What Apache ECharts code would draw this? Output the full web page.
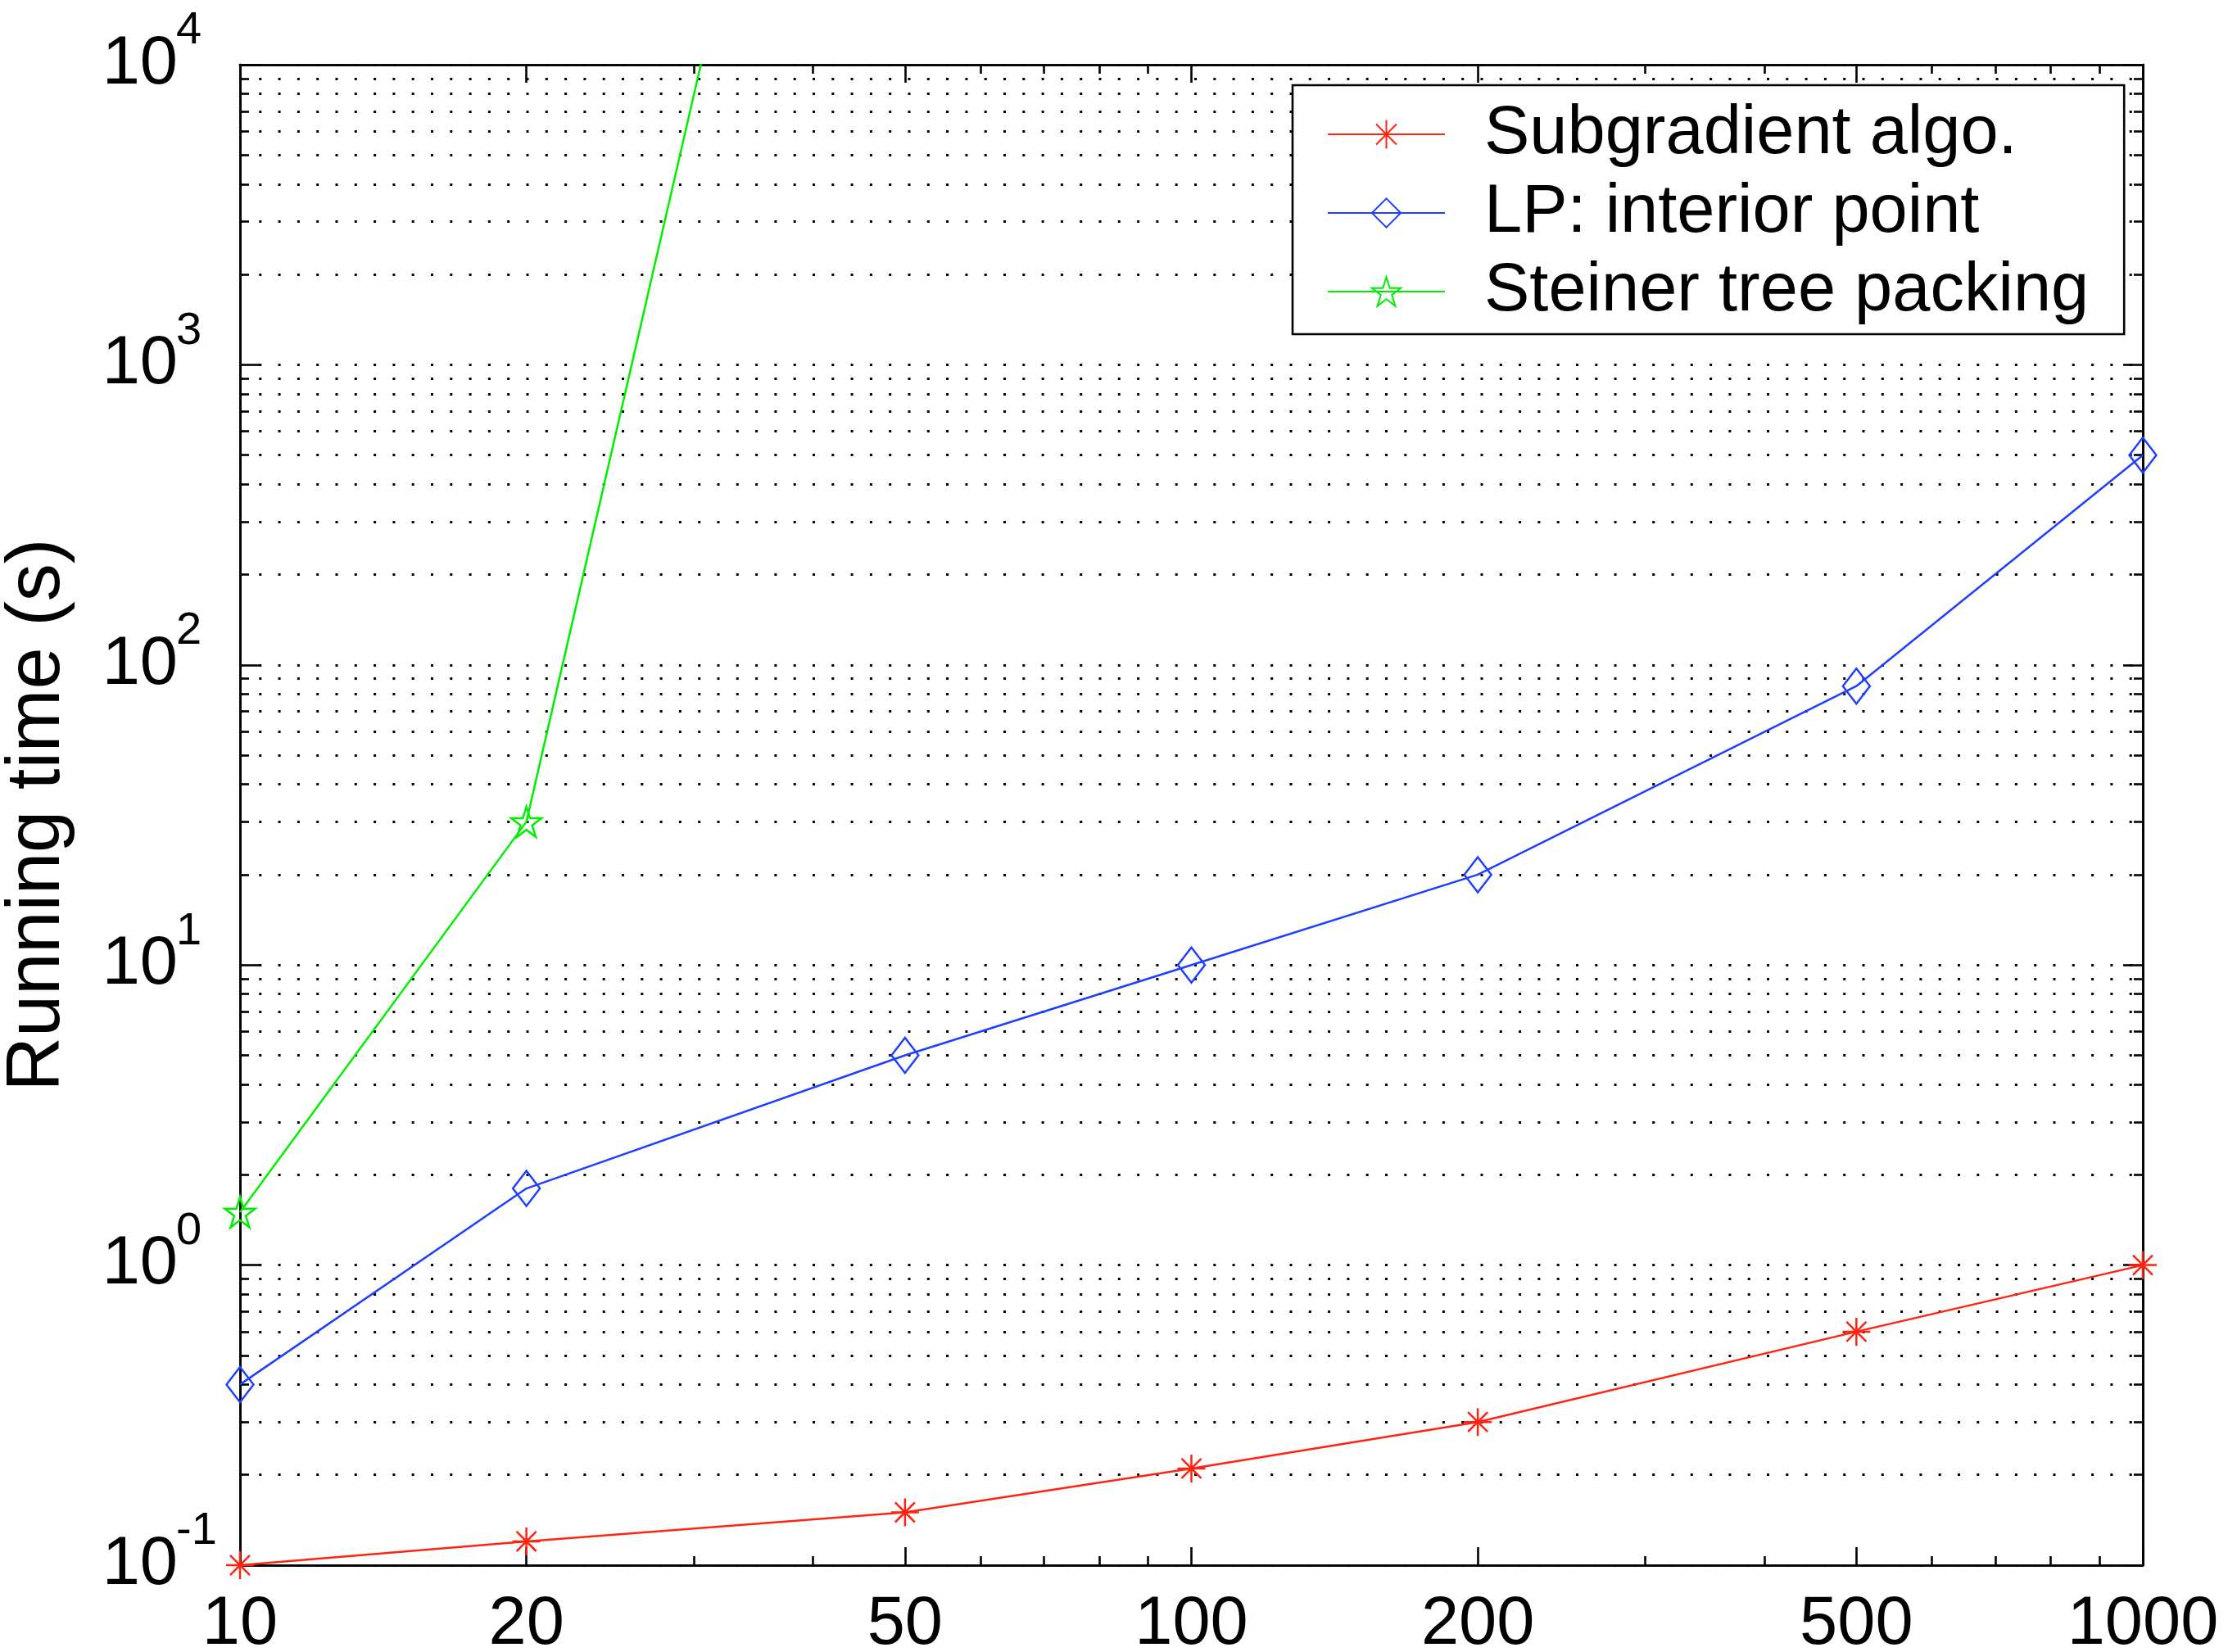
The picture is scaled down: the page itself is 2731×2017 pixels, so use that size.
<!DOCTYPE html>
<html>
<head>
<meta charset="utf-8">
<script src="https://cdn.jsdelivr.net/npm/echarts@6/dist/echarts.min.js"></script>
<style>html,body{margin:0;padding:0;background:#fff}#c{width:2731px;height:2017px}</style>
</head>
<body>
<div id="c"></div>
<script>
// ---- data ----
const problemSizes = [10, 20, 50, 100, 200, 500, 1000];
const subgradientTimes = [0.1, 0.12, 0.15, 0.21, 0.3, 0.6, 1.0];
const lpTimes = [0.4, 1.8, 5, 10, 20, 85, 500];
const steinerSizes = [10, 20, 50];
const steinerTimes = [1.5, 30, 9e6];
const xTickLabels = [10, 20, 50, 100, 200, 500, 1000];
const yDecades = [-1, 0, 1, 2, 3, 4];
const seriesNames = ['Subgradient algo.', 'LP: interior point', 'Steiner tree packing'];
const yAxisTitle = 'Running time (s)';

// ---- style ----
const FONT = '"Liberation Sans", Arial, Helvetica, sans-serif';
const RED = '#ff2412', BLUE = '#1f3fff', GREEN = '#00ee00';
const LOG = v => +Math.log10(v).toFixed(12);

const xMinor = [];
for (const d of [10, 100]) for (let m = 2; m <= 9; m++) { const v = m * d; if (!xTickLabels.includes(v)) xMinor.push(v); }
const yMinor = [];
for (const e of yDecades.slice(0, -1)) for (let m = 2; m <= 9; m++) yMinor.push(m * Math.pow(10, e));

const dotted = {color: '#000', width: 3, type: [3, 20.3]};
const axLine = {show: true, onZero: false, lineStyle: {color: '#000', width: 2.6}};

function decoX(position, vals, len, withLabels) {
  return {
    type: 'value', position: position, min: LOG(10), max: LOG(1000),
    axisLine: axLine,
    axisTick: {show: true, inside: true, length: len, customValues: vals.map(LOG), lineStyle: {color: '#000', width: 2.6}},
    axisLabel: withLabels ? {
      show: true, customValues: vals.map(LOG),
      formatter: v => String(Math.round(Math.pow(10, v))),
      fontSize: 83, lineHeight: 83, fontFamily: FONT, color: '#000', margin: 32
    } : {show: false},
    splitLine: {show: false}
  };
}
function decoY(position, vals, len, withLabels, grid) {
  return {
    type: 'value', position: position, min: -1, max: 4, interval: 1,
    axisLine: axLine,
    axisTick: {show: true, inside: true, length: len, customValues: vals, lineStyle: {color: '#000', width: 2.6}},
    axisLabel: withLabels ? {
      show: true, customValues: vals, formatter: () => '10',
      fontSize: 83, lineHeight: 83, fontFamily: FONT, color: '#000', margin: 76
    } : {show: false},
    splitLine: grid ? {show: true, lineStyle: dotted} : {show: false}
  };
}

const asterisk = 'path://M0,-1L0,1M-1,0L1,0M-0.7071,-0.7071L0.7071,0.7071M-0.7071,0.7071L0.7071,-0.7071';
function starPath() {
  const pts = [];
  for (let k = 0; k < 10; k++) {
    const r = k % 2 === 0 ? 1 : 0.382;
    const a = -Math.PI / 2 + k * Math.PI / 5;
    pts.push((r * Math.cos(a)).toFixed(4) + ',' + (r * Math.sin(a)).toFixed(4));
  }
  return 'path://M' + pts.join('L') + 'Z';
}

const chart = echarts.init(document.getElementById('c'), null, {renderer: 'canvas'});
chart.setOption({
  animation: false,
  backgroundColor: '#fff',
  grid: {left: 293, right: 115, top: 79, bottom: 106, containLabel: false, outerBoundsMode: 'none'},
  xAxis: [
    {type: 'log', logBase: 10, min: 10, max: 1000, show: false},
    decoX('bottom', xTickLabels, 22, true),
    decoX('bottom', xMinor, 11, false),
    decoX('top', xTickLabels, 22, false),
    decoX('top', xMinor, 11, false)
  ],
  yAxis: [
    {
      type: 'log', logBase: 10, min: 0.1, max: 10000, position: 'left',
      axisLine: {show: false}, axisTick: {show: false}, splitLine: {show: false},
      axisLabel: {
        formatter: v => String(Math.round(Math.log10(v))),
        fontSize: 56, lineHeight: 56, fontFamily: FONT, color: '#000',
        align: 'left', verticalAlign: 'bottom', margin: 78, padding: [0, 0, 13, 0]
      },
      name: yAxisTitle, nameLocation: 'middle', nameGap: 200,
      nameTextStyle: {fontSize: 92, fontFamily: FONT, color: '#000'}
    },
    decoY('left', yDecades, 24, true, true),
    decoY('left', yMinor.map(LOG), 11, false, true),
    decoY('right', yDecades, 24, false, false),
    decoY('right', yMinor.map(LOG), 11, false, false)
  ],
  legend: {
    orient: 'vertical', left: 1578, top: 104,
    padding: [12, 43, 4, 42], itemGap: 0, itemWidth: 143, itemHeight: 44,
    backgroundColor: '#fff', borderColor: '#000', borderWidth: 2.6, borderRadius: 0,
    textStyle: {fontSize: 83, fontFamily: FONT, color: '#000', lineHeight: 96, padding: [0, 0, 0, 43]},
    data: seriesNames, selectedMode: false
  },
  series: [
    {
      name: seriesNames[0], type: 'line', xAxisIndex: 0, yAxisIndex: 0, clip: false, z: 5,
      data: problemSizes.map((x, i) => [x, subgradientTimes[i]]),
      symbol: asterisk, symbolSize: 34,
      lineStyle: {color: RED, width: 2.5},
      itemStyle: {color: 'none', borderColor: RED, borderWidth: 2.5}
    },
    {
      name: seriesNames[1], type: 'line', xAxisIndex: 0, yAxisIndex: 0, clip: false, z: 5,
      data: problemSizes.map((x, i) => [x, lpTimes[i]]),
      symbol: 'diamond', symbolSize: [33, 43],
      lineStyle: {color: BLUE, width: 2.5},
      itemStyle: {color: 'none', borderColor: BLUE, borderWidth: 2.5}
    },
    {
      name: seriesNames[2], type: 'line', xAxisIndex: 0, yAxisIndex: 0, clip: true, z: 5,
      data: steinerSizes.map((x, i) => [x, steinerTimes[i]]),
      symbol: starPath(), symbolSize: 37,
      lineStyle: {color: GREEN, width: 2.5},
      itemStyle: {color: 'none', borderColor: GREEN, borderWidth: 2.5}
    }
  ]
});
</script>
</body>
</html>
